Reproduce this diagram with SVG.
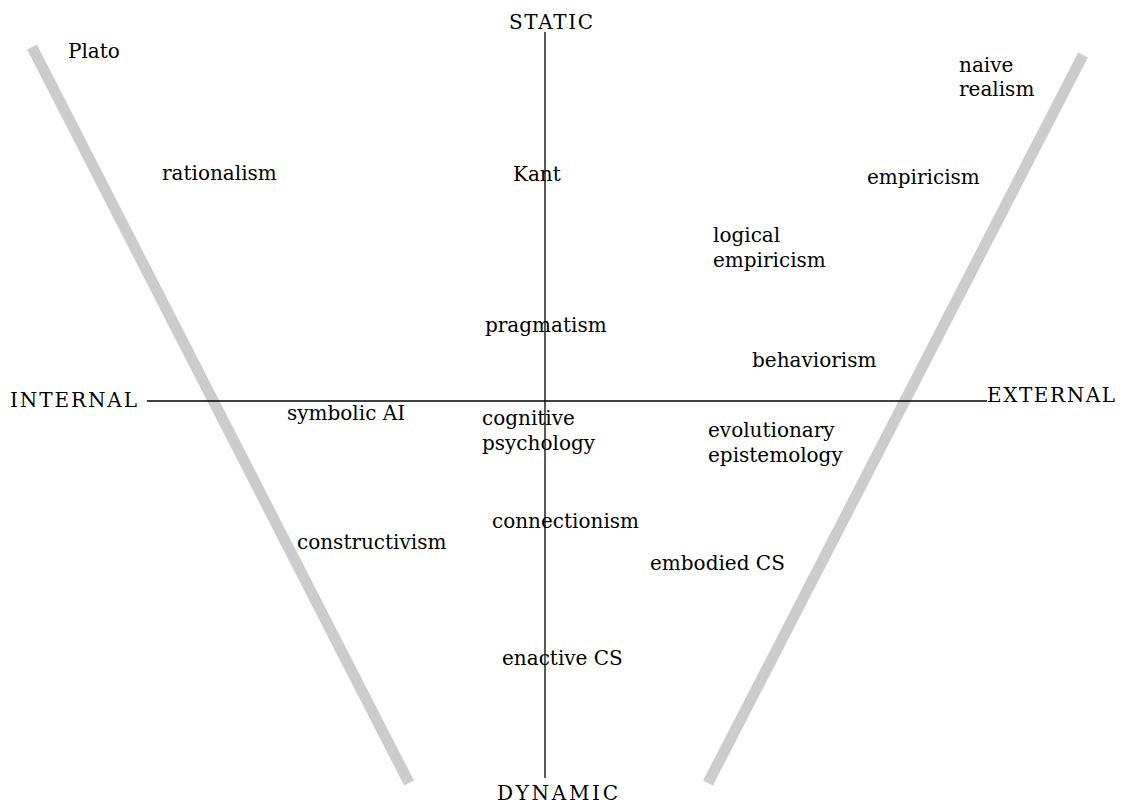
<svg xmlns="http://www.w3.org/2000/svg" width="1123" height="803" viewBox="0 0 1123 803">
<style>
  text { font-family: "DejaVu Serif", "Liberation Serif", serif; font-size: 20px; fill: #000; }
  .band { stroke: #cccccc; stroke-width: 11; fill: none; }
  .axis { stroke: #000; stroke-width: 1.3; fill: none; }
</style>
<rect width="1123" height="803" fill="#fff"/>
<g id="bands">
  <line class="band" x1="32" y1="47" x2="409" y2="783"/>
  <line class="band" x1="1083" y1="55" x2="708" y2="783"/>
</g>
<g id="connectors">
  <line class="axis" x1="147" y1="401" x2="987" y2="401"/>
  <line class="axis" x1="545" y1="32" x2="545" y2="778"/>
</g>
<g id="axis-labels">
  <text id="static" x="509" y="29" textLength="84">STATIC</text>
  <text id="dynamic" x="497" y="800" textLength="121">DYNAMIC</text>
  <text id="internal" x="10" y="407" textLength="127">INTERNAL</text>
  <text id="external" x="987" y="402" textLength="128">EXTERNAL</text>
</g>
<g id="plato"><text x="68" y="58">Plato</text></g>
<g id="naive-realism"><text x="959" y="72">naive</text><text x="959" y="96">realism</text></g>
<g id="rationalism"><text x="162" y="180">rationalism</text></g>
<g id="kant"><text x="513" y="181">Kant</text></g>
<g id="empiricism"><text x="867" y="184">empiricism</text></g>
<g id="logical-empiricism"><text x="713" y="242">logical</text><text x="713" y="267">empiricism</text></g>
<g id="pragmatism"><text x="485" y="332">pragmatism</text></g>
<g id="behaviorism"><text x="752" y="367">behaviorism</text></g>
<g id="symbolic-ai"><text x="287" y="420">symbolic AI</text></g>
<g id="cognitive-psychology"><text x="482" y="425">cognitive</text><text x="482" y="450">psychology</text></g>
<g id="evolutionary-epistemology"><text x="708" y="437">evolutionary</text><text x="708" y="462">epistemology</text></g>
<g id="connectionism"><text x="492" y="528">connectionism</text></g>
<g id="constructivism"><text x="297" y="549">constructivism</text></g>
<g id="embodied-cs"><text x="650" y="570">embodied CS</text></g>
<g id="enactive-cs"><text x="502" y="665">enactive CS</text></g>
</svg>
